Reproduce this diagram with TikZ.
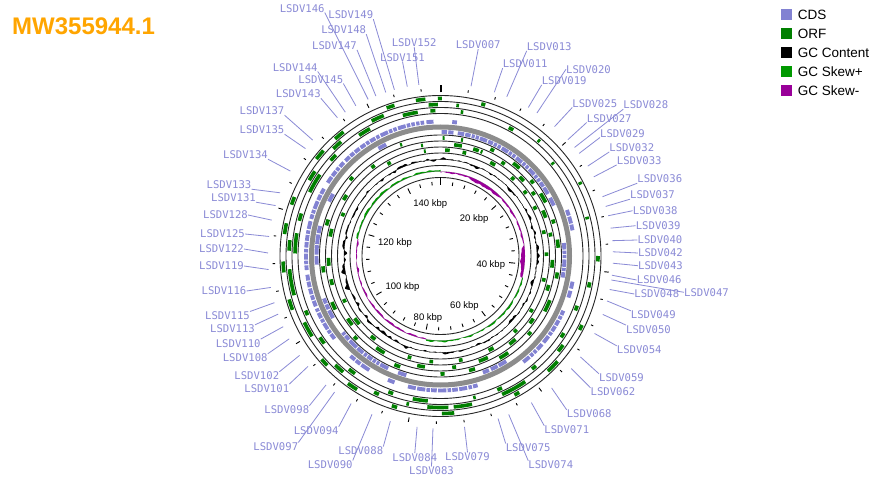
\documentclass[tikz,border=0pt]{standalone}
\usepackage{fontspec}
\setmainfont{Liberation Sans}
\newfontfamily\lblfont{DejaVu Sans Mono}
\definecolor{cdscol}{RGB}{130,130,210}
\definecolor{labcol}{RGB}{138,138,214}
\definecolor{orfcol}{RGB}{0,128,0}
\definecolor{skewp}{RGB}{0,153,0}
\definecolor{skewm}{RGB}{153,0,153}
\definecolor{bbcol}{RGB}{140,140,140}
\definecolor{titlecol}{RGB}{255,165,0}
\newcommand\mklabel[5]{%
  \node[lab] (l#1) at (#2,#3) {LSDV#1};
  \path (440.5,256) ++(#5-90:172.5) coordinate (e#1);
  \draw[leader] (l#1.#4) -- (e#1);}
\begin{document}
\begin{tikzpicture}[x=1pt,y=-1pt,
  declare function={
    bump(\t,\c,\w)=max(0,1-((\t-\c)/\w)*((\t-\c)/\w));
    gcn(\t)=sin(13*\t)+0.8*sin(29*\t+20)+0.7*sin(43*\t+50)+1.4*sin(37*\t)*sin(41*\t+30)+1.1*sin(44*\t+10)*cos(39*\t)*sin(31*\t);
    gcf(\t)=(0.65+0.8*bump(\t,260,30)+0.45*bump(\t,90,35)+0.45*bump(\t,215,25)+0.35*bump(\t,350,30))*gcn(\t);
    skn(\t)=sin(41*\t)+0.7*sin(23*\t+30)+1.2*sin(37*\t+60)*sin(43*\t);
    skb(\t)=(\t<105)?(-1.4-1.6*bump(\t,30,14)-2.6*bump(\t,93,10)):((\t<190)?1.2:((\t<262)?-1.2:((\t<282)?-0.7:1.5)));
    sk(\t)=skb(\t)+0.4*skn(\t);
  },
  lab/.style={inner sep=0pt, text=labcol, font=\lblfont\fontsize{10.6}{12}\selectfont},
  leader/.style={draw=labcol, line width=0.8pt},
  ringline/.style={draw=black!85, line width=0.9pt},
  orf/.style={draw=orfcol, line width=3.6pt},
  cds/.style={draw=cdscol, line width=3.9pt},
  tickline/.style={draw=black, line width=0.9pt},
  kbp/.style={inner sep=0pt, anchor=base, font=\fontsize{9.5}{11}\selectfont},
  legtext/.style={inner sep=0pt, anchor=west, font=\fontsize{13.5}{16}\selectfont},
  ]
\useasboundingbox (0,0) rectangle (879,481);
\fill[white] (0,0) rectangle (879,481);

\begin{scope}[shift={(440.5,256)}]
  % ring circles
  \foreach \r in {160.5,154.5,148.5,142.5,121,115,109,103,90.5,78.5}
    \draw[ringline] (0,0) circle (\r);
  % backbone
  \draw[bbcol, line width=5pt] (0,0) circle (129);
  % forward ORFs
  \foreach \a/\b in {351/354.5,359/360.5,15/16.5,62/63,90/92,116/118,132/137,150/152,175/179.5,196/198,212/216,226/229,250/254,264/268,278/282,289/292,308/312,318/322,340/343}
    \draw[orf] (\a-90:157.5) arc (\a-90:\b-90:157.5);
  \foreach \a/\b in {355.5/359,6/7,40/41,75/76,100/102,126/129,146/156,168/175,177/185,192/193,204/206,220/224,238/244,255/265,272/276,300/304,315/319,333/338}
    \draw[orf] (\a-90:151.5) arc (\a-90:\b-90:151.5);
  \foreach \a/\b in {345/351,8/9,28/30,50/51,110/112,122/124,139/141,155/157,166/167,185/191,199/201,216/219,233/236,246/248,271/279,284/287,296/304,311/314,326/331,356/358}
    \draw[orf] (\a-90:145.5) arc (\a-90:\b-90:145.5);
  % reverse ORFs
  \foreach \a/\b in {1/2,10/11,25/27,38/42,50/52,58/63,72/74,82/86,98/101,112/118,130/132,145/150,163/166,178/180,200/203,225/227,243/247,262/265,285/288,310/312,340/341}
    \draw[orf] (\a-90:118) arc (\a-90:\b-90:118);
  \foreach \a/\b in {350/351,7/11,17/20,21/22,33/35,45/48,55/57,66/70,78/80,92/96,105/108,124/127,138/142,155/160,172/174,188/192,210/215,232/236,255/258,265/269,280/284,300/303,322/324}
    \draw[orf] (\a-90:112) arc (\a-90:\b-90:112);
  \foreach \a/\b in {351/352,2.5/5,12/14,28/31,42/44,52/54,62/64,76/78,88/90,102/104,120/122,134/136,150/153,168/170,184/186,196/198,218/221,230/234,244/246,292/294,330/332}
    \draw[orf] (\a-90:106) arc (\a-90:\b-90:106);
  % forward CDS
  \foreach \a/\b in {232/234.5,235/236.5,237/240,240.5/242,242.5/245,245.6/247,248/250.5,251/253,253.5/256,256.6/259,259.5/262,264/266,266.5/268,268.5/271,271.5/273,273.6/276,276.5/279,279.5/281,281.6/285,286/288,288.5/290,290.5/294,294.6/297,297.5/300,303/306,306.5/309,309.5/311,311.6/314,315/317.5,318/320,320.5/323,323.6/326,326.5/328,328.5/331,331.5/333,333.6/337,337.5/339,339.5/341,341.6/345,345.5/347,347.5/349,349.6/351,351.5/353,354/357,5/7,70/72.5,73/76,76.5/79,101/104,105/108,114/116,116.5/118,118.6/121,121.5/124,124.5/126,126.6/130,131/134,134.6/136,136.5/138,138.6/142,164/166,166.5/168,168.6/172,172.6/175,175.5/177,177.5/181,181.6/184,184.5/186,186.5/190,190.6/194,200/203,212/216,216.6/219,219.5/222}
    \draw[cds] (\a-90:134.5) arc (\a-90:\b-90:134.5);
  % reverse CDS
  \foreach \a/\b in {0.5/3,3.6/6,8/11,11.5/14,14.6/16,16.5/18,18.5/22,22.6/25,25.5/27,27.5/29,29.6/33,33.5/35,35.5/37,37.6/41,41.5/43,43.5/45,45.6/49,49.5/51,51.5/53,53.6/56,56.5/60,62/66,84/87,87.5/89,89.5/91,91.6/95,95.5/97,97.5/100,148/152,152.6/156,157/160,196/200,205/209,209.6/211,211.5/213,213.5/216,216.5/218,218.6/222,222.5/227,227.6/230,230.5/232,240/244,244.6/247,247.5/250,266/270,270.6/275,275.5/280,280.6/284,296/300,330/334}
    \draw[cds] (\a-90:124) arc (\a-90:\b-90:124);
  % GC content
  \fill[black, even odd rule] plot[domain=0:360, samples=721] (\x-90:{96.5+gcf(\x)}) -- cycle (0,0) circle (96.5);
  \draw[black, line width=0.3pt] (0,0) circle (96.5);
  % GC skew
  \fill[skewp, even odd rule] plot[domain=0:360, samples=721] (\x-90:{84.5+max(0,sk(\x))}) -- cycle (0,0) circle (84.5);
  \fill[skewm, even odd rule] plot[domain=0:360, samples=721] (\x-90:{84.5+min(0,sk(\x))}) -- cycle (0,0) circle (84.5);
  % outer ticks
  \foreach \k in {1,...,37} {
    \pgfmathsetmacro\ang{\k*9.549-90}
    \pgfmathtruncatemacro\mj{mod(\k,5)==0}
    \ifnum\mj=1
      \draw[tickline] (\ang:164.5) -- (\ang:169);
    \else
      \draw[tickline] (\ang:165.5) -- (\ang:168);
    \fi
  }
  \draw[black, line width=2pt] (-90:163.5) -- (-90:171);
  % inner ticks
  \foreach \k in {1,...,37} {
    \pgfmathsetmacro\ang{\k*9.549-90}
    \pgfmathtruncatemacro\mj{mod(\k,5)==0}
    \ifnum\mj=1
      \draw[tickline] (\ang:69) -- (\ang:75);
    \else
      \draw[tickline] (\ang:71) -- (\ang:74.5);
    \fi
  }
  \draw[black, line width=1.6pt] (-90:71) -- (-90:78.5);
\end{scope}

% inner kbp labels
\node[kbp] (k20) at (474.2,221.1) {20 kbp};
\node[kbp] (k40) at (490.8,267.4) {40 kbp};
\node[kbp] (k60) at (464.5,308.4) {60 kbp};
\node[kbp] (k80) at (428,320.1) {80 kbp};
\node[kbp] (k100) at (402.5,289.4) {100 kbp};
\node[kbp] (k120) at (395,245.7) {120 kbp};
\node[kbp] (k140) at (430.3,206.1) {140 kbp};

% feature labels
\mklabel{007}{478.2}{45}{south}{10.2}
\mklabel{011}{525.2}{64}{south west}{18.2}
\mklabel{013}{549.2}{46.7}{south west}{22.6}
\mklabel{019}{564.2}{80.7}{south west}{30.6}
\mklabel{020}{588.5}{69.3}{west}{34}
\mklabel{025}{594.8}{103.3}{south west}{41.4}
\mklabel{027}{609.2}{118.3}{south west}{47.6}
\mklabel{028}{645.8}{105}{south west}{51}
\mklabel{029}{622.5}{133.3}{south west}{53.5}
\mklabel{032}{631.8}{147.7}{south west}{58.6}
\mklabel{033}{639.2}{160.7}{south west}{62.7}
\mklabel{036}{659.8}{179}{south west}{69.9}
\mklabel{037}{652.5}{195}{south west}{73.3}
\mklabel{038}{655.2}{210.7}{west}{76.5}
\mklabel{039}{658.2}{225.7}{west}{80.7}
\mklabel{040}{660}{240}{west}{84.9}
\mklabel{042}{660.5}{253}{west}{88.6}
\mklabel{043}{660.5}{265.7}{west}{92.4}
\mklabel{046}{659.2}{280}{west}{96.4}
\mklabel{047}{706.5}{292.3}{west}{98}
\mklabel{048}{656.8}{294}{west}{101.2}
\mklabel{049}{653.3}{315}{north west}{105.1}
\mklabel{050}{648.5}{329.3}{north west}{109.8}
\mklabel{054}{639.2}{350}{north west}{116.7}
\mklabel{059}{621.5}{378}{north west}{125.8}
\mklabel{062}{613}{392}{north west}{130.7}
\mklabel{068}{589.2}{414}{north west}{139.9}
\mklabel{071}{566.8}{430}{north west}{148.2}
\mklabel{074}{550.8}{465}{north west}{156.7}
\mklabel{075}{528.2}{447.7}{north west}{160.5}
\mklabel{079}{467.5}{456.7}{north}{172}
\mklabel{083}{431.5}{470.7}{north}{182.5}
\mklabel{084}{414.8}{457.3}{north}{187.8}
\mklabel{088}{360.8}{450.7}{north east}{196.9}
\mklabel{090}{330.2}{464.7}{north east}{203.4}
\mklabel{094}{316.2}{431}{north east}{211.2}
\mklabel{097}{275.8}{446.7}{north east}{217.9}
\mklabel{098}{286.8}{410}{north east}{221.6}
\mklabel{101}{266.8}{388.3}{north east}{230.2}
\mklabel{102}{256.8}{376}{north east}{234.8}
\mklabel{108}{245.2}{358}{north east}{241.3}
\mklabel{110}{238.2}{343.3}{north east}{245.8}
\mklabel{113}{232.5}{329}{north east}{250.3}
\mklabel{115}{227.5}{315.7}{north east}{254.3}
\mklabel{116}{224}{291}{east}{259.5}
\mklabel{119}{221.5}{266}{east}{265.5}
\mklabel{122}{221.5}{249}{east}{271}
\mklabel{125}{222.5}{234}{east}{276.5}
\mklabel{128}{225.5}{215}{east}{282}
\mklabel{131}{233.5}{198}{south east}{287}
\mklabel{133}{229}{185}{south east}{291.5}
\mklabel{134}{245.5}{155}{south east}{299.5}
\mklabel{135}{262}{130}{south east}{308.5}
\mklabel{137}{262}{111}{south east}{312.2}
\mklabel{143}{298.3}{94}{south east}{323.3}
\mklabel{144}{295.2}{67.3}{south east}{326.5}
\mklabel{145}{320.8}{79.3}{south east}{330.6}
\mklabel{146}{302.2}{8.3}{south east}{335.2}
\mklabel{147}{334.5}{45.7}{south east}{338}
\mklabel{148}{343.7}{30}{south east}{341.5}
\mklabel{149}{350.8}{15}{south east}{344.5}
\mklabel{151}{402.5}{57.3}{south}{348.9}
\mklabel{152}{414.2}{42.7}{south}{352.8}

% title
\node[anchor=base west, inner sep=0pt, text=titlecol, font=\bfseries\fontsize{24}{28}\selectfont] (title) at (12,35) {MW355944.1};

% legend
\foreach \i/\c/\t in {0/cdscol/CDS,1/orfcol/ORF,2/black/GC Content,3/skewp/GC Skew+,4/skewm/GC Skew-} {
  \fill[\c] (780.7,9.2+19*\i) rectangle ++(11,11);
  \node[legtext] (leg\i) at (797.7,14.7+19*\i) {\t};
}
\end{tikzpicture}
\end{document}
